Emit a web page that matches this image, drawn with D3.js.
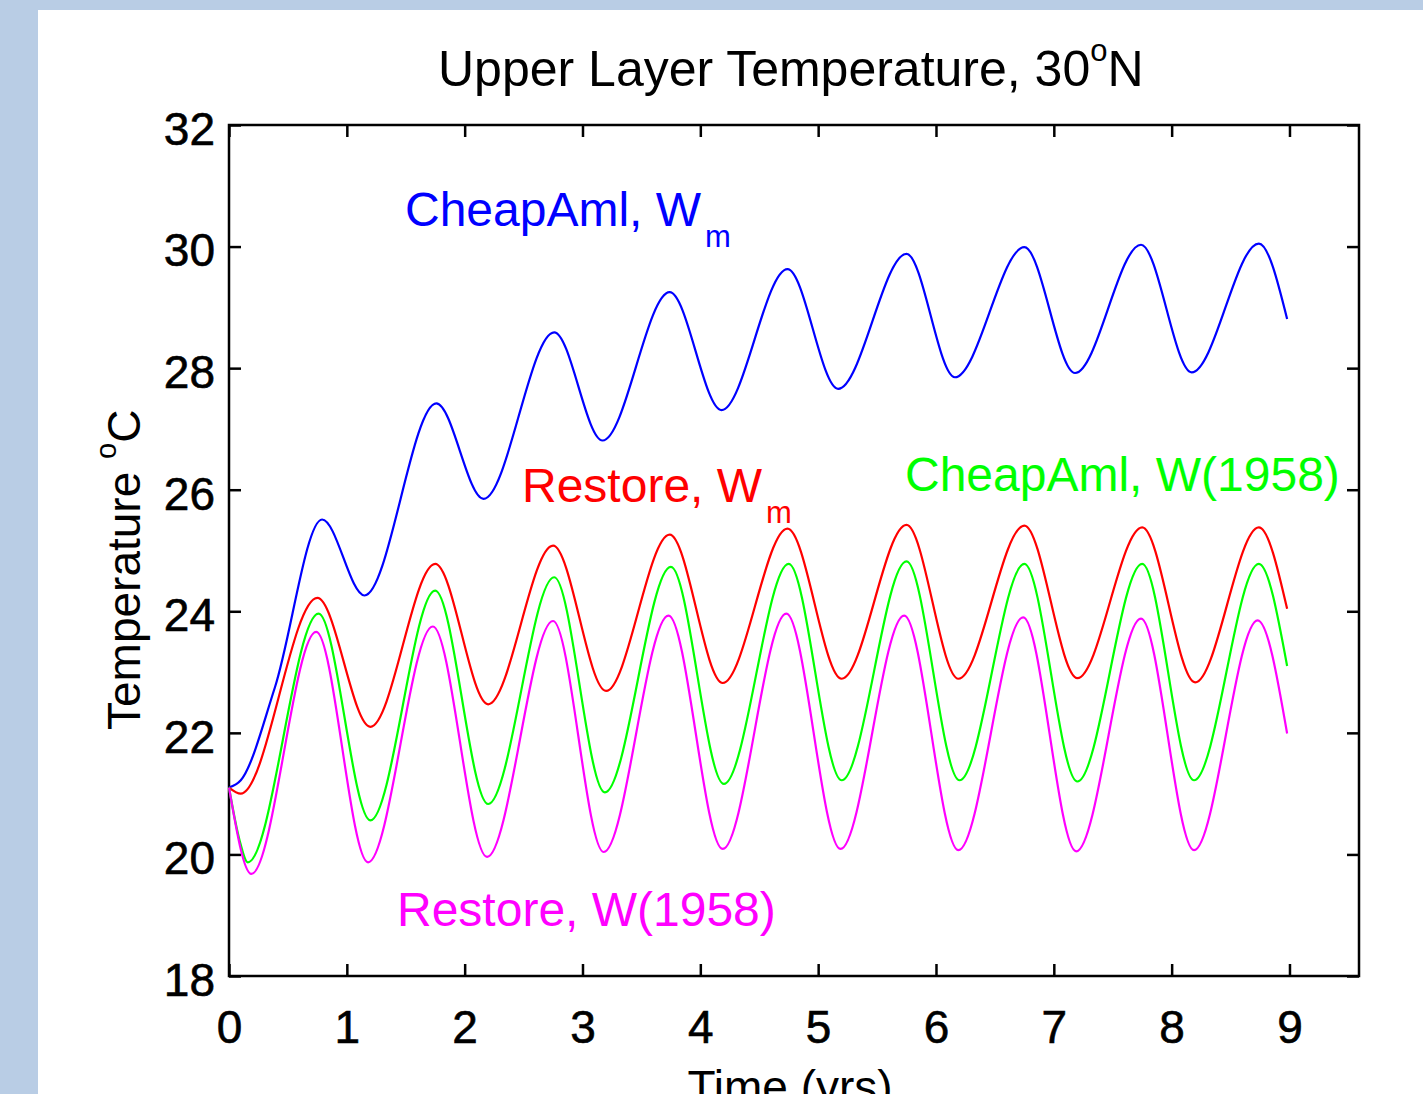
<!DOCTYPE html>
<html><head><meta charset="utf-8">
<script src="https://cdn.jsdelivr.net/npm/d3@7"></script>
<style>
html,body{margin:0;padding:0;background:#b9cde5;}
svg{display:block;}
text{font-family:"Liberation Sans",Arial,Helvetica,sans-serif;}
</style></head><body>
<svg id="chart" width="1423" height="1094"></svg>
<script>
// ---- data ----
const xTicks = [0,1,2,3,4,5,6,7,8,9];
const yTicks = [18,20,22,24,26,28,30,32];

// CheapAml, Wm  (blue)
const blueT = [0,0.1,0.39,0.79,1.15,1.76,2.16,2.76,3.17,3.74,4.18,4.74,5.17,5.75,6.16,6.75,7.18,7.74,8.17,8.74,8.98];
const blueV = [21.1,21.22,22.75,25.51,24.26,27.42,25.85,28.59,26.81,29.25,27.31,29.63,27.66,29.88,27.85,29.99,27.92,30.03,27.93,30.05,28.81];

// Restore, Wm  (red)
const redT = [0,0.1,0.75,1.2,1.75,2.2,2.75,3.2,3.74,4.19,4.74,5.2,5.75,6.19,6.75,7.2,7.75,8.2,8.74,8.98];
const redV = [21.1,21.0,24.22,22.1,24.78,22.47,25.08,22.69,25.26,22.82,25.36,22.89,25.42,22.89,25.41,22.9,25.38,22.83,25.38,24.04];

// CheapAml, W(1958)  (green)
const greenT = [0,0.09,0.16,0.76,1.2,1.75,2.2,2.76,3.19,3.75,4.2,4.75,5.2,5.75,6.2,6.75,7.2,7.75,8.19,8.74,8.98];
const greenV = [21.1,20.23,19.87,23.96,20.56,24.34,20.83,24.56,21.02,24.73,21.16,24.78,21.22,24.82,21.22,24.78,21.2,24.78,21.22,24.78,23.1];

// Restore, W(1958)  (magenta)
const magT = [0,0.19,0.74,1.18,1.73,2.19,2.75,3.18,3.73,4.19,4.73,5.19,5.73,6.19,6.74,7.19,7.74,8.19,8.73,8.98];
const magV = [21.1,19.68,23.66,19.87,23.75,19.96,23.84,20.04,23.93,20.09,23.96,20.09,23.93,20.07,23.9,20.05,23.88,20.07,23.85,21.99];

const seriesNames = ["CheapAml, Wm","Restore, Wm","CheapAml, W(1958)","Restore, W(1958)"];
const seriesColors = ["#0000ff","#ff0000","#00ff00","#ff00ff"];

// ---- layout ----
const svg = d3.select("#chart");
svg.append("rect").attr("x",38).attr("y",10).attr("width",1423-38).attr("height",1094-10).attr("fill","#ffffff");

const L=229, R=1359, T=125, B=976;
const x = d3.scaleLinear().domain([0,9.59]).range([L,R]);
const y = d3.scaleLinear().domain([18,32]).range([B,T]);

const FS = 46;

// axes
const gx = svg.append("g").attr("transform",`translate(0,${B})`)
  .call(d3.axisBottom(x).tickValues(xTicks).tickSizeInner(-12).tickSizeOuter(0).tickPadding(34).tickFormat(d3.format("d")));
const gy = svg.append("g").attr("transform",`translate(${L},0)`)
  .call(d3.axisLeft(y).tickValues(yTicks).tickSizeInner(-12).tickSizeOuter(0).tickPadding(14).tickFormat(d3.format("d")));
const gt = svg.append("g").attr("transform",`translate(0,${T})`)
  .call(d3.axisTop(x).tickValues(xTicks).tickSizeInner(-12).tickSizeOuter(0).tickFormat(""));
const gr = svg.append("g").attr("transform",`translate(${R},0)`)
  .call(d3.axisRight(y).tickValues(yTicks).tickSizeInner(-12).tickSizeOuter(0).tickFormat(""));
[gx,gy,gt,gr].forEach(g=>{
  g.select(".domain").remove();
  g.selectAll(".tick line").attr("stroke","#000").attr("stroke-width",2.5);
  g.selectAll(".tick text").attr("font-size",FS).attr("fill","#000")
    .attr("stroke","#000").attr("stroke-width",0.6)
    .attr("font-family","Liberation Sans, Arial, sans-serif");
});
gy.selectAll(".tick text").attr("dy","0.42em");
svg.append("rect").attr("x",L).attr("y",T).attr("width",R-L).attr("height",B-T)
  .attr("fill","none").attr("stroke","#000").attr("stroke-width",2.5);

// lines
const line = d3.line().x(d=>x(d[0])).y(d=>y(d[1])).curve(d3.curveMonotoneX);
const allT=[blueT,redT,greenT,magT], allV=[blueV,redV,greenV,magV];
allT.forEach((ts,i)=>{
  const pts = ts.map((t,j)=>[t,allV[i][j]]);
  svg.append("path").attr("d",line(pts)).attr("fill","none")
    .attr("stroke",seriesColors[i]).attr("stroke-width",2.2).attr("stroke-linejoin","round");
});

// title
const title = svg.append("text").attr("x",438).attr("y",86).attr("font-size",50).attr("fill","#000");
title.append("tspan").text("Upper Layer Temperature, 30");
title.append("tspan").attr("font-size",31).attr("dy",-25).text("o");
title.append("tspan").attr("dy",25).text("N");

// y label
const yl = svg.append("text").attr("transform","translate(140,730) rotate(-90)").attr("font-size",FS).attr("fill","#000");
yl.append("tspan").text("Temperature ");
yl.append("tspan").attr("font-size",29).attr("dy",-24).text("o");
yl.append("tspan").attr("dy",24).text("C");

// x label (cut by the bottom edge, as in the reference)
svg.append("text").attr("x",790).attr("y",1103).attr("text-anchor","middle").attr("font-size",FS).attr("fill","#000").text("Time (yrs)");

// annotations
function label(x0,y0,main,sub,color){
  const t = svg.append("text").attr("x",x0).attr("y",y0).attr("font-size",48).attr("fill",color);
  t.append("tspan").text(main);
  if(sub){ t.append("tspan").attr("font-size",31).attr("dx",4).attr("dy",21).text(sub); }
  return t;
}
label(405,226,"CheapAml, W","m",seriesColors[0]);
label(522,502,"Restore, W","m",seriesColors[1]);
label(905,491,"CheapAml, W(1958)",null,seriesColors[2]);
label(397,926,"Restore, W(1958)",null,seriesColors[3]);
</script>
</body></html>
